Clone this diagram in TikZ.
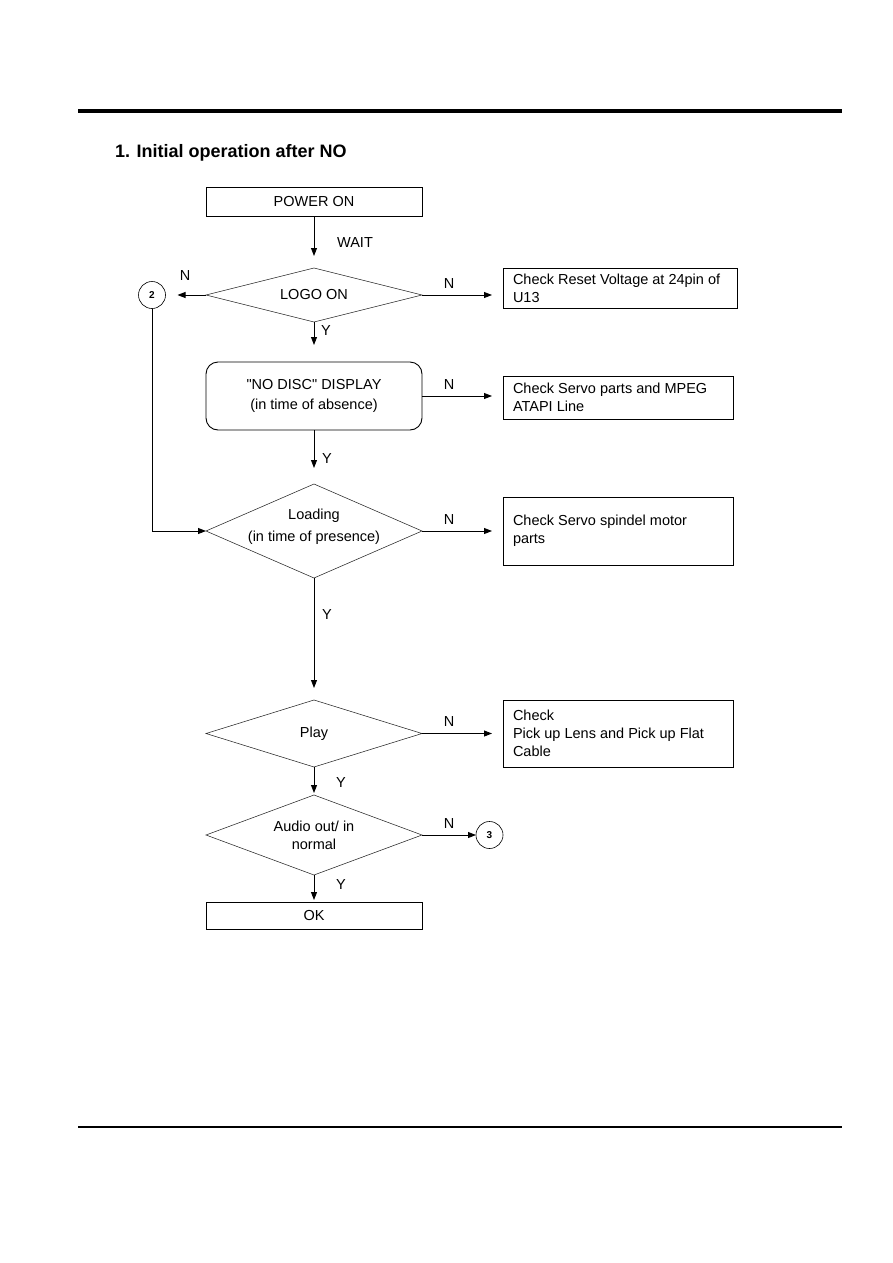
\documentclass[tikz,border=0pt]{standalone}
\usepackage{fontspec}
\setmainfont{Liberation Sans}[Ligatures=TeXOff]
\usetikzlibrary{shapes.geometric,arrows.meta}
\begin{document}
\begin{tikzpicture}[x=1pt,y=-1pt,
  every node/.style={font=\fontsize{14.5}{18}\selectfont, inner sep=0pt, outer sep=0pt},
  box/.style={draw, line width=0.9pt, rectangle},
  rbox/.style={draw, line width=0.9pt, rectangle, rounded corners=12pt},
  dia/.style={draw=black!85, line width=0.55pt, diamond},
  conn/.style={draw, line width=0.6pt, circle, minimum size=27pt, font=\bfseries\fontsize{10}{12}\selectfont},
  arr/.style={line width=0.9pt, -{Triangle[length=8pt,width=6pt]}},
  lbl/.style={font=\fontsize{14.5}{18}\selectfont},
  txt/.style={align=left}
]
\useasboundingbox (0,0) rectangle (893,1263);
% page rules
\draw[line width=3.5pt] (78,111) -- (842,111);
\draw[line width=1.6pt] (78,1127) -- (842,1127);
% title
\node[anchor=base west, font=\bfseries\fontsize{18}{22}\selectfont] (title) at (115,157) {1. Initial operation after NO};

% main column
\node[box, minimum width=216pt, minimum height=29pt] (pw) at (314,201.5) {POWER ON};
\node[dia, minimum width=216pt, minimum height=54pt] (d1) at (314,295) {};
\node (d1t) at (d1.center) {LOGO ON};
\node[rbox, minimum width=216pt, minimum height=68pt] (nd) at (314,396) {};
\node[align=center] (ndt) at (nd.center) {"NO DISC" DISPLAY\\[2pt](in time of absence)};
\node[dia, minimum width=216pt, minimum height=94pt] (d3) at (314,531) {};
\node[align=center] (d3t) at (314,527) {Loading\\[4pt](in time of presence)};
\node[dia, minimum width=216pt, minimum height=67pt] (d4) at (314,733.5) {};
\node (d4t) at (d4.center) {Play};
\node[dia, minimum width=216pt, minimum height=80pt] (d5) at (314,835) {};
\node[align=center] (d5t) at (d5.center) {Audio out/ in\\normal};
\node[box, minimum width=216pt, minimum height=27pt] (ok) at (314,915.5) {OK};

% side boxes
\node[box, minimum width=234pt, minimum height=40pt, anchor=north west] (b1) at (503,268) {};
\node[txt, anchor=west] (b1t) at ([xshift=10pt]b1.west) {Check Reset Voltage at 24pin of\\U13};
\node[box, minimum width=230pt, minimum height=43pt, anchor=north west] (b2) at (503,376) {};
\node[txt, anchor=west] (b2t) at ([xshift=10pt]b2.west) {Check Servo parts and MPEG\\ATAPI Line};
\node[box, minimum width=230pt, minimum height=68pt, anchor=north west] (b3) at (503,497) {};
\node[txt, anchor=west] (b3t) at ([xshift=10pt]b3.west) {Check Servo spindel motor\\parts};
\node[box, minimum width=230pt, minimum height=67pt, anchor=north west] (b4) at (503,700) {};
\node[txt, anchor=west] (b4t) at ([xshift=10pt]b4.west) {Check\\Pick up Lens and Pick up Flat\\Cable};

% connectors (circles)
\node[conn] (c2) at (152,295) {2};
\node[conn] (c3) at (489.5,835) {3};

% arrows
\draw[arr, shorten >=12pt] (pw.south) -- (d1.north);
\draw[arr, shorten >=12pt] (d1.west) -- (c2.east);
\draw[arr, shorten >=11pt] (d1.east) -- (b1.west |- d1.east);
\draw[arr, shorten >=17pt] (d1.south) -- (nd.north);
\draw[arr, shorten >=11pt] (nd.east) -- (b2.west |- nd.east);
\draw[arr, shorten >=16pt] (nd.south) -- (d3.north);
\draw[arr] (c2.south) |- (d3.west);
\draw[arr, shorten >=11pt] (d3.east) -- (b3.west);
\draw[arr, shorten >=12pt] (d3.south) -- (d4.north);
\draw[arr, shorten >=11pt] (d4.east) -- (b4.west |- d4.east);
\draw[arr, shorten >=2pt] (d4.south) -- (d5.north);
\draw[arr] (d5.east) -- (c3.west);
\draw[arr, shorten >=2pt] (d5.south) -- (ok.north);

% labels
\node[lbl] (lw) at (355,243) {WAIT};
\node[lbl] (ln1) at (185,276) {N};
\node[lbl] (ln2) at (449,284) {N};
\node[lbl] (ly1) at (326,331) {Y};
\node[lbl] (ln3) at (449,385) {N};
\node[lbl] (ly2) at (327,459) {Y};
\node[lbl] (ln4) at (449,520) {N};
\node[lbl] (ly3) at (327,615) {Y};
\node[lbl] (ln5) at (449,722) {N};
\node[lbl] (ly4) at (341,783) {Y};
\node[lbl] (ln6) at (449,824) {N};
\node[lbl] (ly5) at (341,885) {Y};
\end{tikzpicture}
\end{document}
